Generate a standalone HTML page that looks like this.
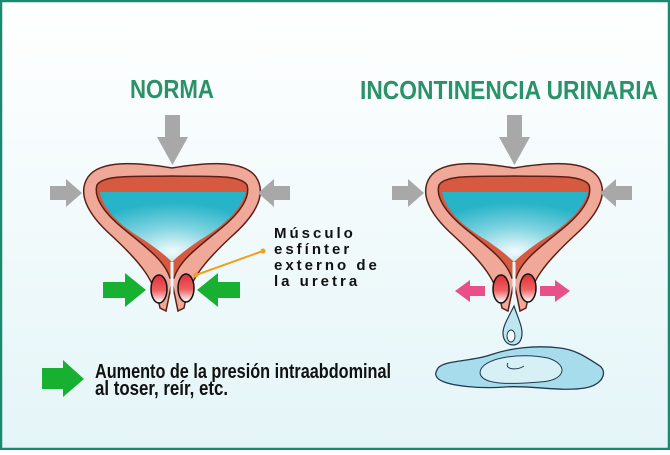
<!DOCTYPE html>
<html><head><meta charset="utf-8"><style>
html,body{margin:0;padding:0;}
body{width:670px;height:450px;overflow:hidden;}
</style></head><body>
<svg width="670" height="450" viewBox="0 0 670 450" xmlns="http://www.w3.org/2000/svg" font-family="Liberation Sans, sans-serif">
<defs>
<linearGradient id="bg" x1="0" y1="0" x2="0" y2="1">
<stop offset="0" stop-color="#ffffff"/><stop offset="1" stop-color="#e4f5f8"/>
</linearGradient>
<radialGradient id="blue" cx="0.5" cy="0.85" r="0.7">
<stop offset="0" stop-color="#f2fbfd"/><stop offset="0.5" stop-color="#7fd3e0"/><stop offset="1" stop-color="#27b3c8"/>
</radialGradient>
<linearGradient id="sph" x1="0" y1="0" x2="0" y2="1">
<stop offset="0" stop-color="#e0303a"/><stop offset="0.55" stop-color="#ee6060"/><stop offset="1" stop-color="#ffffff"/>
</linearGradient>
<g id="bl">
<path d="M160,308 C155,280 140,262 112,236 C85,212 78,192 88,177 C100,160 135,162 172,168 C209,162 244,160 256,177 C266,192 259,212 232,236 C204,262 189,280 184,308 L178,311 L172,282 L166,311 Z" fill="#f0a898" stroke="#5a2018" stroke-width="1.5"/>
<path d="M170,278 C165,262 150,250 125,230 C100,210 94,195 97,185 C104,174 135,177 172,176 C209,177 240,174 247,185 C250,195 244,210 219,230 C194,250 179,262 174,278 Z" fill="#d65a40" stroke="#5a2018" stroke-width="1.5"/>
<path d="M100,192 L246,192 C240,212 220,228 200,240 C185,250 176,258 172,262 C168,258 159,250 144,240 C124,228 104,212 100,192 Z" fill="url(#blue)"/>
<path d="M172,262 L172,300" stroke="#e8f8fa" stroke-width="3"/>
<ellipse cx="159" cy="289" rx="8" ry="14" fill="url(#sph)" stroke="#111" stroke-width="1.5"/>
<ellipse cx="186" cy="288" rx="8" ry="14" fill="url(#sph)" stroke="#111" stroke-width="1.5"/>
<path d="M165,115 H180 V137 H188 L172.5,165 L157,137 H165 Z" fill="#a8a8a8"/>
<path d="M50,186 H66 V179 L82,193 L66,207 V200 H50 Z" fill="#a8a8a8"/>
<path d="M290,186 H274 V179 L258,193 L274,207 V200 H290 Z" fill="#a8a8a8"/>
</g>
</defs>
<rect x="0" y="0" width="670" height="450" fill="url(#bg)"/>
<rect x="1" y="1" width="668" height="448" fill="none" stroke="#1a8a6e" stroke-width="2.5"/>
<text x="130" y="98" font-size="26" font-weight="bold" fill="#2a9268" textLength="84" lengthAdjust="spacingAndGlyphs">NORMA</text>
<text x="360" y="99" font-size="26" font-weight="bold" fill="#2a9268" textLength="298" lengthAdjust="spacingAndGlyphs">INCONTINENCIA URINARIA</text>
<use href="#bl"/>
<use href="#bl" transform="translate(342,0)"/>
<path d="M103,282 H125 V273 L146,290 L125,307 V298 H103 Z" fill="#18b030"/>
<path d="M240,282 H218 V273 L197,290 L218,307 V298 H240 Z" fill="#18b030"/>
<line x1="196" y1="275" x2="263" y2="251" stroke="#f0a020" stroke-width="2"/>
<circle cx="196" cy="275" r="2.5" fill="#f0a020"/><circle cx="263" cy="251" r="2.5" fill="#f0a020"/>
<g font-size="15" font-weight="bold" fill="#111" letter-spacing="3">
<text x="274" y="238">Músculo</text>
<text x="274" y="254">esfínter</text>
<text x="274" y="270">externo de</text>
<text x="274" y="286">la uretra</text>
</g>
<path d="M485,286 H470 V280 L455,291 L470,302 V296 H485 Z" fill="#e8508a"/>
<path d="M540,286 H555 V280 L570,291 L555,302 V296 H540 Z" fill="#e8508a"/>
<path d="M514,306 C508,318 503,326 503,333 C503,341 508,345 513,345 C519,345 522,340 522,333 C522,326 518,318 514,306 Z" fill="#bfe6f0" stroke="#203a50" stroke-width="1.2"/>
<ellipse cx="511" cy="336" rx="4" ry="6" fill="#f4fbfd" stroke="#203a50" stroke-width="1"/>
<path d="M437,370 C440,360 470,362 490,355 C510,348 535,345 560,348 C578,350 590,360 600,366 C608,373 602,385 585,388 C560,392 530,385 505,387 C480,389 450,386 440,380 C435,377 435,373 437,370 Z" fill="#a6dcec" stroke="#203a50" stroke-width="1.3"/>
<path d="M480,373 C480,358 520,352 548,358 C570,365 565,381 540,382 C515,384 482,386 480,373 Z" fill="#d6f0f6" stroke="#203a50" stroke-width="1"/>
<path d="M508,363 C504,369 516,371 524,366" fill="none" stroke="#203a50" stroke-width="1"/>
<path d="M42,368 H63 V360 L84,379 L63,397 V389 H42 Z" fill="#18b030"/>
<g font-size="20" font-weight="bold" fill="#111">
<text x="95" y="378" textLength="296" lengthAdjust="spacingAndGlyphs">Aumento de la presión intraabdominal</text>
<text x="95" y="395" textLength="133" lengthAdjust="spacingAndGlyphs">al toser, reír, etc.</text>
</g>
</svg>
</body></html>
